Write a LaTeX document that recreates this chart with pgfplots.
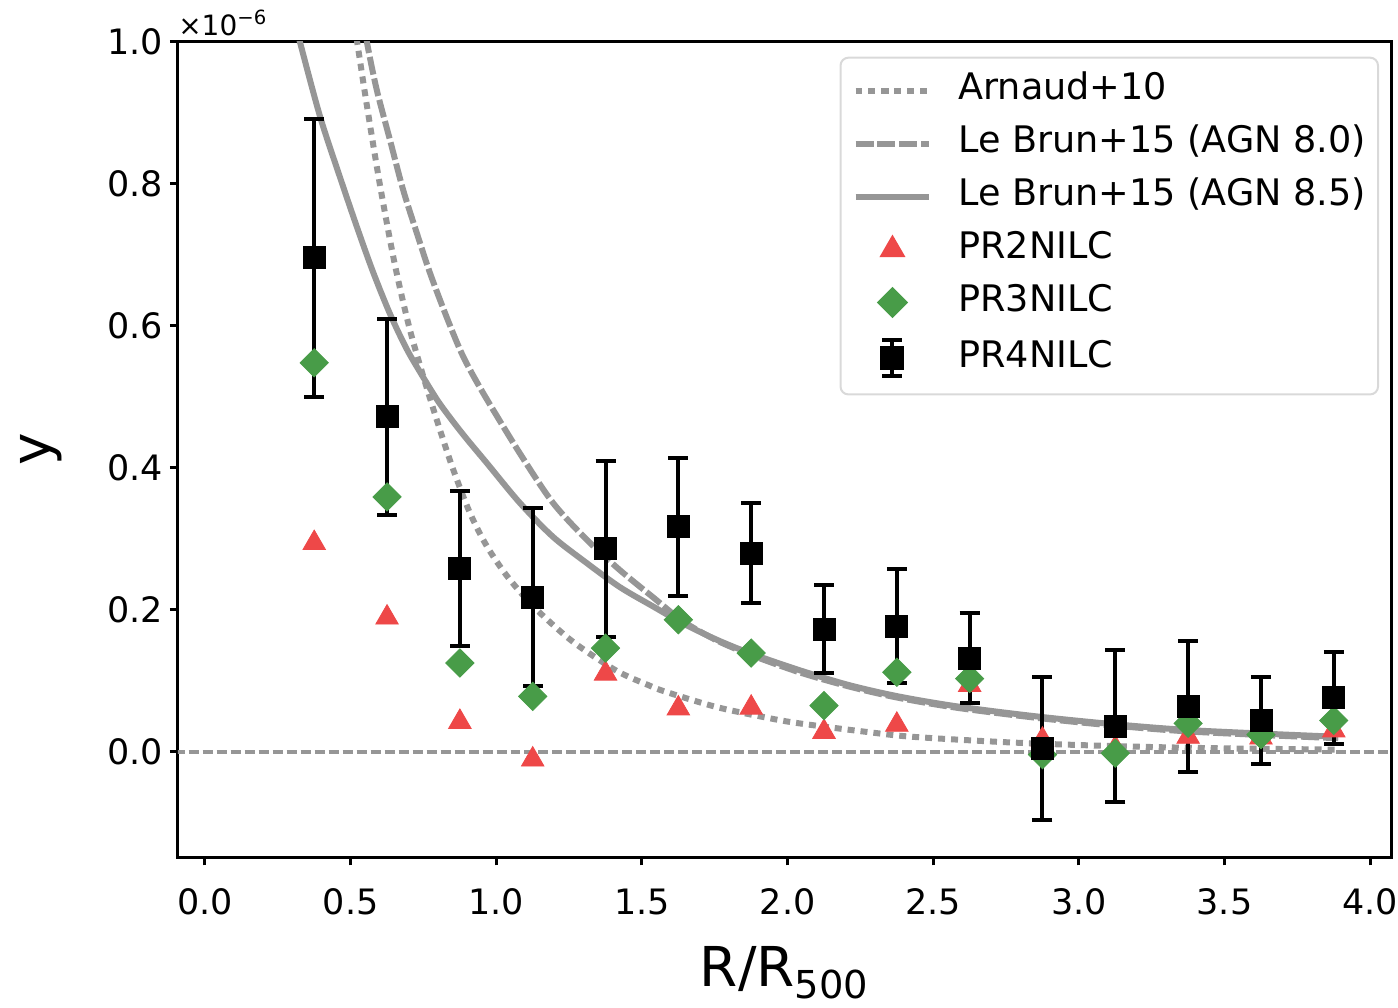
\documentclass[border=0pt]{standalone}
\usepackage{pgfplots}
\pgfplotsset{compat=1.18}
\usepackage{fontspec}
\setmainfont{DejaVu Sans}
\definecolor{lgray}{RGB}{150,150,150}
\definecolor{tri}{RGB}{238,72,72}
\definecolor{dia}{RGB}{72,156,72}

\pgfplotstableread{
x y e
0.375 0.696 0.196
0.625 0.472 0.138
0.875 0.258 0.109
1.125 0.218 0.125
1.375 0.286 0.124
1.625 0.317 0.097
1.875 0.280 0.070
2.125 0.173 0.062
2.375 0.177 0.080
2.625 0.132 0.063
2.875 0.005 0.101
3.125 0.036 0.107
3.375 0.064 0.092
3.625 0.044 0.061
3.875 0.076 0.065
}\prfour

\pgfplotstableread{
x y
0.375 0.548
0.625 0.359
0.875 0.125
1.125 0.078
1.375 0.146
1.625 0.186
1.875 0.139
2.125 0.065
2.375 0.112
2.625 0.103
2.875 -0.004
3.125 -0.002
3.375 0.040
3.625 0.024
3.875 0.044
}\prthree

\pgfplotstableread{
x y
0.375 0.294
0.625 0.189
0.875 0.042
1.125 -0.011
1.375 0.110
1.625 0.061
1.875 0.062
2.125 0.028
2.375 0.038
2.625 0.094
2.875 0.017
3.125 0.005
3.375 0.021
3.625 0.020
3.875 0.030
}\prtwo

\pgfplotstableread{
x y
0.50 1.06
0.525 0.993
0.556 0.910
0.60 0.800
0.65 0.690
0.70 0.600
0.75 0.528
0.80 0.462
0.85 0.400
0.909 0.337
0.967 0.290
1.036 0.248
1.115 0.210
1.194 0.179
1.276 0.151
1.413 0.114
1.527 0.093
1.585 0.084
1.756 0.063
1.928 0.048
2.04 0.040
2.27 0.028
2.43 0.021
2.77 0.013
3.115 0.008
3.46 0.005
3.89 0.003
}\arnaud

\pgfplotstableread{
x y
0.54 1.04
0.559 0.993
0.59 0.932
0.635 0.862
0.68 0.792
0.727 0.731
0.772 0.675
0.83 0.612
0.885 0.558
0.954 0.506
1.08 0.421
1.194 0.351
1.31 0.299
1.424 0.256
1.537 0.218
1.64 0.184
1.756 0.157
1.87 0.137
2.04 0.112
2.21 0.092
2.38 0.076
2.58 0.062
2.85 0.048
3.115 0.037
3.40 0.028
3.89 0.019
}\lebrunA

\pgfplotstableread{
x y
0.305 1.035
0.326 1.000
0.395 0.895
0.463 0.810
0.521 0.740
0.576 0.677
0.635 0.617
0.693 0.567
0.75 0.527
0.80 0.494
0.85 0.466
0.90 0.440
0.967 0.407
1.08 0.351
1.194 0.303
1.31 0.266
1.424 0.232
1.537 0.205
1.64 0.181
1.756 0.158
1.87 0.139
2.04 0.115
2.21 0.094
2.38 0.078
2.58 0.064
2.85 0.050
3.115 0.039
3.40 0.030
3.89 0.021
}\lebrunB

\begin{document}
\begin{tikzpicture}
\path (-89pt,-75pt) rectangle (610pt,429pt);
\begin{axis}[
  at={(0pt,0pt)}, anchor=south west,
  scale only axis, width=607pt, height=408pt,
  xmin=-0.093, xmax=4.072, ymin=-0.149, ymax=1.0,
  axis line style={line width=1.5pt},
  xtick={0,0.5,...,4.0}, ytick={0,0.2,...,1.0},
  xtick pos=bottom, ytick pos=left, tick align=outside,
  major tick length=4pt,
  every tick/.style={line width=1.5pt, black},
  /pgf/number format/fixed,
  /pgf/number format/fixed zerofill,
  /pgf/number format/precision=1,
  /pgf/number format/assume math mode=true,
  tick label style={font=\fontsize{17.5}{20}\selectfont},
  xticklabel style={yshift=-8pt, inner xsep=0pt},
  scaled ticks=false,
  xlabel={R/R\textsubscript{500}},
  ylabel={y},
  label style={font=\fontsize{27.5}{32}\selectfont},
  xlabel style={yshift=-9pt},
  ylabel style={yshift=16pt},
  clip=true,
  legend cell align=left,
  legend style={at={(0.99,0.982)}, anchor=north east, draw=black!15, line width=1pt,
    rounded corners=4pt, font=\fontsize{18.3}{21}\selectfont,
    inner xsep=6pt, inner ysep=8pt, row sep=9.5pt,
    nodes={inner sep=0pt, text height=13pt, text depth=4pt},
    /tikz/every odd column/.append style={column sep=13pt}},
  legend image code/.code={\draw[#1, sharp corners, mark repeat=2, mark phase=2] plot coordinates {(0pt,0pt) (18.5pt,0pt) (37pt,0pt)};},
]
\addplot[lgray, line width=2pt, dash pattern=on 5pt off 2pt, forget plot] coordinates {(-0.2,0) (4.2,0)};

\addplot[lgray, line width=3pt, dash pattern=on 3.5pt off 3pt, smooth, tension=0.5] table[x=x,y=y] {\arnaud};
\addlegendentry{Arnaud+10}

\addplot[lgray, line width=3pt, dash pattern=on 9pt off 2pt, smooth, tension=0.5] table[x=x,y=y] {\lebrunA};
\addlegendentry{Le Brun+15 (AGN 8.0)}

\addplot[lgray, line width=3pt, smooth, tension=0.5] table[x=x,y=y] {\lebrunB};
\addlegendentry{Le Brun+15 (AGN 8.5)}

\addplot[only marks, mark=triangle*, mark size=6.5pt, color=tri, draw=none, fill=tri] table[x=x,y=y] {\prtwo};
\addlegendentry{PR2NILC}

\addplot[only marks, mark=square*, mark size=5pt, color=dia, draw=none, fill=dia, mark options={rotate=45}] table[x=x,y=y] {\prthree};
\addlegendentry{PR3NILC}

\addplot[only marks, mark=square*, mark size=5.5pt, color=black,
  legend image code/.code={
    \draw[black, line width=2pt, sharp corners] (18.5pt,-9pt) -- (18.5pt,9pt);
    \draw[black, line width=2pt, sharp corners] (13.5pt,-9pt) -- (23.5pt,-9pt);
    \draw[black, line width=2pt, sharp corners] (13.5pt,9pt) -- (23.5pt,9pt);
    \fill[black, sharp corners] (13pt,-5.5pt) rectangle (24pt,5.5pt);
  },
  error bars/.cd, y dir=both, y explicit,
  error bar style={line width=2pt, black},
  error mark options={black, line width=2pt, mark size=5pt, rotate=90}
  ] table[x=x,y=y,y error=e] {\prfour};
\addlegendentry{PR4NILC}

\end{axis}
\node[anchor=south west, font=\fontsize{14}{16}\selectfont, inner sep=0pt] at (0pt,411pt) {×10\textsuperscript{−6}};
\end{tikzpicture}
\end{document}
